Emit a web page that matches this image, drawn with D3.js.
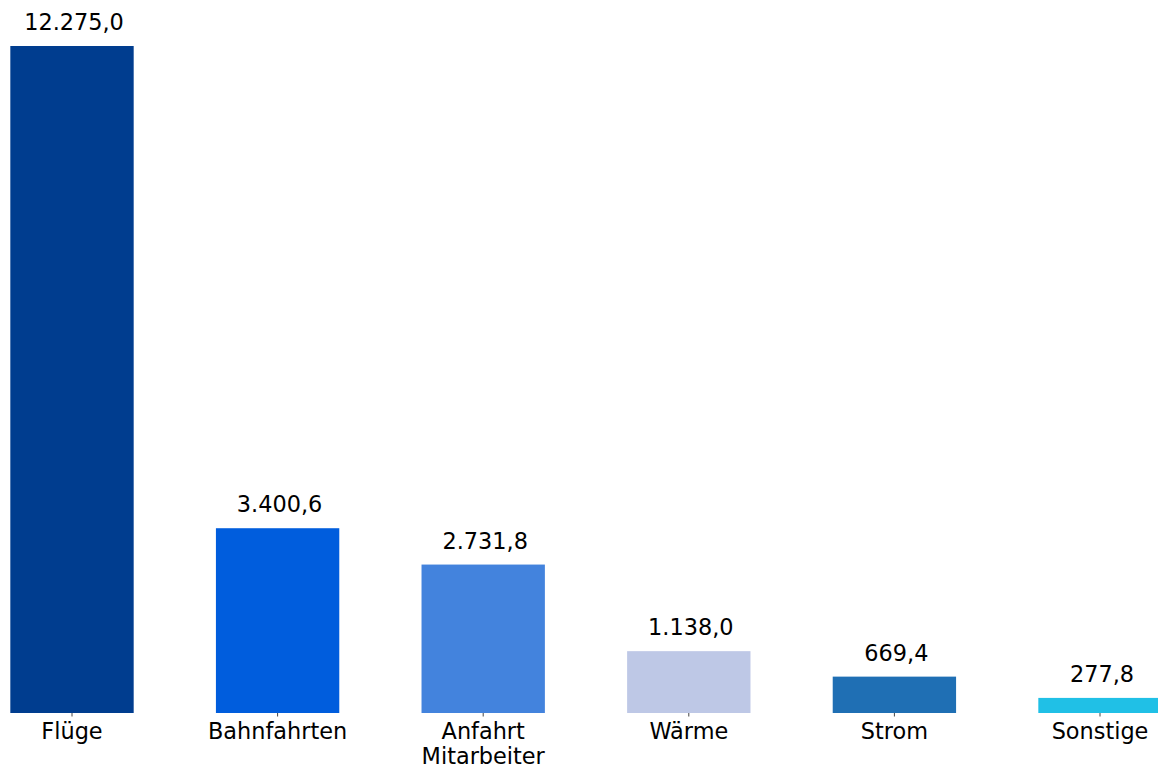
<!DOCTYPE html>
<html>
<head>
<meta charset="utf-8">
<script src="https://cdn.jsdelivr.net/npm/d3@7"></script>
<style>
  html, body { margin: 0; padding: 0; background: #fff; overflow: hidden; }
  text { font-family: "DejaVu Sans", sans-serif; fill: #000; }
</style>
</head>
<body>
<svg class="svg_parent"></svg>
<script>
// categories and values
const categories = ["Flüge", "Bahnfahrten", "Anfahrt\nMitarbeiter", "Wärme", "Strom", "Sonstige"];
const values = [12275.0, 3400.6, 2731.8, 1138.0, 669.4, 277.8];
const barColors = ["#003d8f", "#005ddd", "#4383dd", "#bec8e6", "#1f6fb4", "#20c0e6"];

const svgWidth = 1158;
const svgHeight = 769;

const svg = d3.select(".svg_parent").attr("width", svgWidth).attr("height", svgHeight);

const baseline = 713;
const topY = 46;

const x = d3.scaleBand().domain(categories).range([-30.8, 1202.8]).paddingInner(0.4).paddingOuter(0.2);
const y = d3.scaleLinear().domain([0, d3.max(values)]).range([baseline, topY]);

// german number format: 12.275,0
const fmt = d3.formatLocale({ decimal: ",", thousands: ".", grouping: [3], currency: ["", "€"] }).format(",.1f");

const data = categories.map((c, i) => ({ cat: c, value: values[i], color: barColors[i] }));

svg.append("g").selectAll("rect").data(data).enter().append("rect")
  .attr("x", d => x(d.cat)).attr("y", d => y(d.value))
  .attr("width", x.bandwidth()).attr("height", d => baseline - y(d.value))
  .attr("fill", d => d.color);

svg.append("g").selectAll("text").data(data).enter().append("text")
  .attr("x", d => x(d.cat) + x.bandwidth() / 2 + 2).attr("y", d => y(d.value) - 16)
  .attr("text-anchor", "middle").style("font-size", "22.4px").text(d => fmt(d.value));

// x axis: ticks only, no domain line
const xAxis = d3.axisBottom(x).tickSize(3.5).tickPadding(6).tickFormat("");
const axisG = svg.append("g").attr("transform", `translate(0,${baseline})`).call(xAxis);
axisG.select(".domain").remove();
axisG.selectAll(".tick line").attr("stroke", "#444").attr("stroke-width", 1);

axisG.selectAll(".tick").each(function (d) {
  const lines = d.split("\n");
  const t = d3.select(this).append("text").attr("text-anchor", "middle").style("font-size", "22.4px");
  lines.forEach((ln, i) => {
    t.append("tspan").attr("x", 0).attr("y", 26 + i * 24.5).text(ln);
  });
});
</script>
</body>
</html>
